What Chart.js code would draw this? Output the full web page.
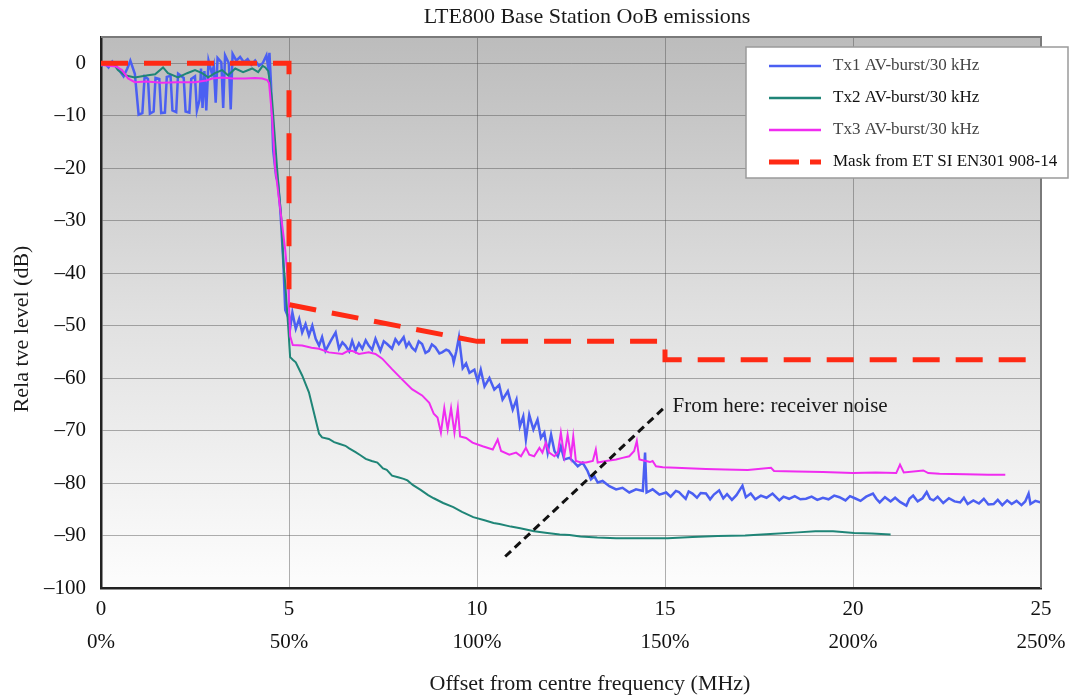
<!DOCTYPE html>
<html>
<head>
<meta charset="utf-8">
<title>LTE800 Base Station OoB emissions</title>
<script src="https://cdn.jsdelivr.net/npm/chart.js@4.4.1/dist/chart.umd.min.js"></script>
<style>
  html, body { margin: 0; padding: 0; background: #ffffff; }
  #wrap { width: 1075px; height: 700px; }
</style>
</head>
<body>
<div id="wrap"><canvas id="oobChart" width="1075" height="700"></canvas></div>
<script>
// Axis ticks
const xTickValues = [0, 5, 10, 15, 20, 25];
const xTickLabels = ['0', '5', '10', '15', '20', '25'];
const xPctLabels = ['0%', '50%', '100%', '150%', '200%', '250%'];
const yTickValues = [-100, -90, -80, -70, -60, -50, -40, -30, -20, -10, 0];
const yTickLabels = ['\u2013100', '\u201390', '\u201380', '\u201370', '\u201360', '\u201350', '\u201340', '\u201330', '\u201320', '\u201310', '0'];

// Tx1 AV-burst/30 kHz (offset MHz / level dB)
const tx1Freq = [
  0.00, 0.10, 0.20, 0.30, 0.40, 0.50, 0.60, 0.70, 0.78, 0.90,
  1.00, 1.10, 1.16, 1.25, 1.30, 1.40, 1.45, 1.55, 1.60, 1.70,
  1.75, 1.85, 1.90, 2.00, 2.05, 2.20, 2.25, 2.35, 2.40, 2.50,
  2.55, 2.62, 2.66, 2.70, 2.75, 2.80, 2.86, 2.95, 3.00, 3.05,
  3.10, 3.20, 3.25, 3.30, 3.40, 3.45, 3.50, 3.60, 3.70, 3.80,
  3.90, 4.00, 4.10, 4.20, 4.30, 4.40, 4.45, 4.48, 4.52, 4.58,
  4.66, 4.70, 4.77, 4.85, 4.90, 4.98,
  5.00, 5.04, 5.09, 5.18, 5.27, 5.35, 5.44, 5.53, 5.62, 5.71,
  5.80, 5.88, 5.97, 6.11, 6.24, 6.33, 6.42, 6.50, 6.60, 6.68,
  6.77, 6.86, 6.95, 7.04, 7.12, 7.21, 7.30, 7.43, 7.52, 7.61,
  7.74, 7.83, 7.92, 8.05, 8.12, 8.19, 8.27, 8.36, 8.45, 8.54,
  8.63, 8.72, 8.80, 8.89, 9.00, 9.07, 9.18, 9.25, 9.35, 9.38,
  9.45, 9.52, 9.62, 9.71, 9.80, 9.93, 10.02, 10.10, 10.20, 10.33,
  10.46, 10.59, 10.68, 10.82, 10.95, 11.05, 11.14, 11.23, 11.30, 11.39,
  11.50, 11.61, 11.70, 11.79, 11.88, 11.97, 12.06, 12.15, 12.23, 12.32,
  12.46, 12.59, 12.68, 12.81, 12.94, 13.03, 13.12, 13.21, 13.34, 13.52,
  13.70, 13.87, 14.05, 14.23, 14.41, 14.47, 14.51, 14.67, 14.85, 15.03,
  15.15, 15.29, 15.37, 15.45, 15.55, 15.63, 15.73, 15.85, 15.95, 16.09,
  16.20, 16.30, 16.44, 16.55, 16.65, 16.78, 16.90, 17.06, 17.15, 17.28,
  17.40, 17.55, 17.70, 17.86, 18.04, 18.15, 18.30, 18.45, 18.60, 18.75,
  18.90, 19.05, 19.20, 19.35, 19.50, 19.64, 19.80, 19.92, 20.05, 20.20,
  20.35, 20.53, 20.62, 20.71, 20.85, 21.00, 21.12, 21.25, 21.42, 21.50,
  21.60, 21.72, 21.85, 21.96, 22.05, 22.14, 22.25, 22.40, 22.55, 22.70,
  22.85, 22.95, 23.05, 23.20, 23.35, 23.48, 23.60, 23.74, 23.85, 23.97,
  24.10, 24.22, 24.35, 24.48, 24.58, 24.67, 24.72, 24.85, 25.00
];
const tx1Level = [
  -0.5, 0.0, -0.8, 0.3, -0.5, -1.5, -2.5, -1.0, 0.5, -2.0,
  -9.8, -9.5, -2.5, -3.0, -9.6, -9.2, -2.8, -3.0, -9.5, -9.4,
  -2.6, -2.4, -9.0, -9.3, -2.0, -2.8, -9.2, -9.4, -3.0, -2.5,
  -9.0, -7.0, -1.0, -8.5, -1.5, -9.0, 0.5, -2.0, -0.5, -7.5,
  1.0, 0.2, -8.5, 1.5, 0.0, -8.8, 1.8, 0.5, 1.2, 0.2,
  0.8, -0.3, 0.5, -0.5, 0.0, 1.5, -1.0, 2.0, -3.8, -16.6,
  -21.7, -22.5, -28.0, -38.0, -47.0, -48.4,
  -48.1, -50.0, -47.5, -50.6, -48.7, -51.3, -49.7, -51.9, -50.0, -52.5,
  -53.8, -52.2, -54.8, -52.9, -51.3, -54.4, -53.2, -53.8, -54.9, -52.9,
  -54.8, -53.4, -54.4, -52.8, -53.8, -54.6, -52.5, -54.8, -53.0, -53.5,
  -54.4, -52.6, -53.5, -52.2, -54.0, -53.2, -54.2, -54.8, -53.0, -53.5,
  -55.2, -54.8, -53.6, -54.1, -55.3, -55.1, -54.6, -54.8, -55.9, -57.0,
  -54.9, -52.2, -58.1, -57.2, -59.0, -58.4, -60.6, -58.4, -61.6, -60.0,
  -62.2, -61.3, -64.1, -62.5, -66.0, -64.1, -69.2, -67.3, -71.7, -67.0,
  -69.8, -67.9, -71.4, -70.4, -74.2, -70.8, -73.9, -74.9, -73.0, -75.5,
  -75.2, -76.1, -76.8, -76.1, -77.7, -79.3, -78.7, -79.9, -79.6, -80.6,
  -81.2, -80.9, -81.8, -81.2, -81.5, -74.2, -81.8, -81.2, -82.2, -81.8,
  -82.6, -81.5, -81.7, -82.3, -83.0, -81.6, -82.0, -82.8, -81.9, -82.0,
  -83.1, -82.2, -81.4, -82.9, -82.1, -83.2, -82.3, -80.5, -82.7, -82.0,
  -83.1, -82.4, -82.8, -82.0, -83.3, -82.6, -83.0, -82.5, -83.1, -83.0,
  -82.6, -83.2, -82.8, -83.1, -82.4, -82.7, -83.3, -82.5, -82.9, -83.4,
  -82.6, -82.0, -83.0, -83.7, -82.7, -83.5, -82.8, -83.6, -84.3, -83.0,
  -82.4, -83.5, -82.9, -81.7, -83.0, -83.3, -82.6, -83.8, -82.9, -83.5,
  -83.7, -82.8, -84.0, -83.3, -83.9, -83.0, -84.1, -84.0, -83.2, -84.2,
  -83.3, -84.0, -83.4, -84.2, -83.5, -82.0, -84.0, -83.4, -83.7
];

// Tx2 AV-burst/30 kHz
const tx2Freq = [
  0.00, 0.15, 0.30, 0.45, 0.64, 0.90, 1.25, 1.44, 1.65, 1.78,
  2.05, 2.29, 2.50, 2.69, 2.85, 3.03, 3.22, 3.38, 3.57, 3.78,
  4.02, 4.18, 4.30, 4.37, 4.45, 4.55, 4.68, 4.80, 4.85, 4.90,
  4.98, 5.03, 5.10, 5.18, 5.35, 5.53, 5.66, 5.80, 5.88, 6.06,
  6.20, 6.33, 6.50, 6.60, 6.77, 6.90, 7.04, 7.20, 7.35, 7.50,
  7.60, 7.74, 7.90, 8.05, 8.15, 8.30, 8.50, 8.70, 8.85, 9.10,
  9.37, 9.60, 9.90, 10.20, 10.44, 10.60, 10.90, 11.15, 11.52, 11.87,
  12.20, 12.46, 12.75, 13.20, 13.70, 14.33, 15.07, 15.73, 16.40, 17.13,
  17.80, 18.53, 19.00, 19.47, 20.03, 20.50, 21.00
];
const tx2Level = [
  -0.4, 0.0, 0.2, -1.3, -2.3, -2.7, -2.3, -2.1, -0.8, -1.9,
  -2.7, -1.9, -1.3, -1.9, -2.7, -1.9, -1.3, -2.3, -1.0, -1.7,
  -1.0, -1.7, -0.5, -0.8, -1.5, -7.0, -19.8, -30.0, -38.0, -42.0,
  -50.3, -56.0, -56.5, -57.0, -59.5, -62.7, -66.5, -70.6, -71.3, -71.6,
  -72.2, -72.5, -72.9, -73.4, -74.1, -74.7, -75.4, -75.8, -76.1, -77.2,
  -77.5, -78.6, -78.9, -79.2, -79.5, -80.4, -81.3, -82.3, -82.9, -83.8,
  -84.6, -85.5, -86.5, -87.1, -87.6, -87.8, -88.3, -88.6, -89.2, -89.5,
  -89.8, -89.9, -90.2, -90.4, -90.5, -90.5, -90.5, -90.3, -90.1, -90.0,
  -89.7, -89.4, -89.2, -89.2, -89.5, -89.6, -89.8
];

// Tx3 AV-burst/30 kHz
const tx3Freq = [
  0.00, 0.20, 0.40, 0.56, 0.72, 0.90, 1.20, 1.62, 2.00, 2.50,
  2.80, 2.96, 3.22, 3.50, 3.83, 4.10, 4.29, 4.42, 4.47, 4.55,
  4.63, 4.77, 4.90, 4.98, 5.03, 5.10, 5.35, 5.60, 5.80, 6.06,
  6.42, 6.55, 6.68, 6.86, 7.12, 7.30, 7.48, 7.74, 8.00, 8.27,
  8.54, 8.73, 8.85, 8.95, 9.04, 9.13, 9.22, 9.31, 9.40, 9.49,
  9.55, 9.71, 9.88, 10.15, 10.42, 10.55, 10.64, 10.86, 11.04, 11.17,
  11.30, 11.39, 11.52, 11.66, 11.74, 11.83, 11.92, 12.06, 12.15, 12.23,
  12.32, 12.41, 12.50, 12.56, 12.63, 12.77, 12.90, 13.08, 13.16, 13.21,
  13.43, 13.70, 13.87, 14.05, 14.18, 14.25, 14.32, 14.49, 14.60, 14.67,
  14.76, 14.94, 15.29, 15.60, 16.09, 16.60, 17.20, 17.82, 17.90, 18.50,
  19.20, 20.00, 20.60, 21.15, 21.25, 21.35, 21.87, 22.00, 22.30, 23.00,
  23.60, 24.05
];
const tx3Level = [
  -0.3, -0.5, -0.6, -1.3, -2.9, -3.6, -3.5, -3.7, -3.6, -3.6,
  -3.3, -2.9, -2.7, -2.9, -2.9, -2.8, -2.9, -3.2, -3.8, -10.2,
  -19.8, -28.0, -35.6, -42.0, -52.0, -53.7, -53.8, -54.2, -54.4, -55.1,
  -55.4, -54.9, -54.8, -55.4, -55.1, -55.4, -56.3, -58.3, -60.2, -62.1,
  -63.3, -64.7, -66.8, -67.5, -70.4, -65.7, -69.8, -65.7, -70.4, -65.7,
  -71.1, -71.4, -72.3, -73.0, -73.6, -71.7, -73.9, -74.6, -74.2, -74.9,
  -73.3, -74.6, -74.9, -73.3, -74.2, -72.3, -74.2, -74.9, -74.2, -70.4,
  -74.9, -70.8, -74.9, -71.1, -75.8, -76.1, -76.1, -75.8, -73.6, -76.1,
  -75.8, -75.5, -75.2, -74.9, -73.9, -72.0, -75.5, -75.8, -76.0, -75.8,
  -76.8, -77.0, -77.1, -77.2, -77.3, -77.4, -77.5, -77.1, -77.7, -77.8,
  -77.9, -78.1, -78.0, -78.1, -76.5, -78.0, -77.6, -78.1, -78.25, -78.3,
  -78.4, -78.4
];

// Mask from ETSI EN301 908-14
const maskFreq = [0, 5, 5, 10, 15, 15, 25];
const maskLevel = [0, 0, -46, -53, -53, -56.5, -56.5];

// Receiver noise marker
const noiseFreq = [10.75, 15.0];
const noiseLevel = [-94, -65.5];
const noiseNote = 'From here: receiver noise';

const seriesNames = ['Tx1 AV-burst/30 kHz', 'Tx2 AV-burst/30 kHz', 'Tx3 AV-burst/30 kHz', 'Mask from ET SI EN301 908-14'];
const seriesColors = ['#4b5ff2', '#1f8577', '#f02cf0', '#ff2a14'];

const SERIF = '"Liberation Serif", "Times New Roman", serif';

function toPoints(xs, ys) {
  return xs.map((x, i) => ({ x: x, y: ys[i] }));
}

// gray-to-white plot background
const backdrop = {
  id: 'backdrop',
  beforeDraw(chart) {
    const { ctx, chartArea: a } = chart;
    ctx.save();
    ctx.fillStyle = '#ffffff';
    ctx.fillRect(0, 0, chart.width, chart.height);
    const g = ctx.createLinearGradient(0, a.top, 0, a.bottom);
    g.addColorStop(0, '#bcbcbc');
    g.addColorStop(0.5, '#e0e0e0');
    g.addColorStop(1, '#fdfdfd');
    ctx.fillStyle = g;
    ctx.fillRect(a.left, a.top, a.right - a.left, a.bottom - a.top);
    ctx.restore();
  }
};

// frame, titles, note and the boxed legend
const decorations = {
  id: 'decorations',
  afterDraw(chart) {
    const { ctx, chartArea: a, scales } = chart;
    ctx.save();

    ctx.strokeStyle = '#7a7a7a';
    ctx.lineWidth = 2;
    ctx.beginPath();
    ctx.moveTo(a.left, a.top);
    ctx.lineTo(a.right, a.top);
    ctx.lineTo(a.right, a.bottom);
    ctx.stroke();

    ctx.fillStyle = '#1a1a1a';
    ctx.textBaseline = 'middle';
    ctx.textAlign = 'center';
    ctx.font = '22px ' + SERIF;
    ctx.fillText('LTE800 Base Station OoB emissions', 587, 17);
    ctx.fillText('Offset from centre frequency (MHz)', 590, 684);

    ctx.save();
    ctx.translate(22, 329);
    ctx.rotate(-Math.PI / 2);
    ctx.fillText('Rela tve level (dB)', 0, 0);
    ctx.restore();

    ctx.textAlign = 'left';
    ctx.font = '21px ' + SERIF;
    ctx.fillText(noiseNote, scales.x.getPixelForValue(15.2), scales.y.getPixelForValue(noiseLevel[1]));

    // legend box
    const bx = 746, by = 47, bw = 322, bh = 131;
    ctx.fillStyle = '#ffffff';
    ctx.fillRect(bx, by, bw, bh);
    ctx.strokeStyle = '#9a9a9a';
    ctx.lineWidth = 1.5;
    ctx.strokeRect(bx, by, bw, bh);

    ctx.font = '17px ' + SERIF;
    seriesNames.forEach((name, i) => {
      const y = 66 + i * 32;
      ctx.strokeStyle = seriesColors[i];
      if (i === 3) {
        ctx.lineWidth = 5;
        ctx.beginPath();
        ctx.moveTo(769, y); ctx.lineTo(799, y);
        ctx.moveTo(810, y); ctx.lineTo(821, y);
        ctx.stroke();
      } else {
        ctx.lineWidth = 2.5;
        ctx.beginPath();
        ctx.moveTo(769, y); ctx.lineTo(821, y);
        ctx.stroke();
      }
      ctx.fillStyle = i === 1 || i === 3 ? '#111111' : '#444444';
      ctx.fillText(name, 833, y);
    });
    ctx.restore();
  }
};

const ctx = document.getElementById('oobChart').getContext('2d');

new Chart(ctx, {
  type: 'line',
  data: {
    datasets: [
      {
        label: seriesNames[3],
        data: toPoints(maskFreq, maskLevel),
        borderColor: seriesColors[3],
        borderWidth: 5,
        borderDash: [27, 16],
        pointRadius: 0,
        tension: 0
      },
      {
        label: 'receiver noise',
        data: toPoints(noiseFreq, noiseLevel),
        borderColor: '#111111',
        borderWidth: 3,
        borderDash: [8, 5],
        pointRadius: 0
      },
      {
        label: seriesNames[2],
        data: toPoints(tx3Freq, tx3Level),
        borderColor: seriesColors[2],
        borderWidth: 2,
        pointRadius: 0,
        tension: 0
      },
      {
        label: seriesNames[1],
        data: toPoints(tx2Freq, tx2Level),
        borderColor: seriesColors[1],
        borderWidth: 2,
        pointRadius: 0,
        tension: 0
      },
      {
        label: seriesNames[0],
        data: toPoints(tx1Freq, tx1Level),
        borderColor: seriesColors[0],
        borderWidth: 2.5,
        pointRadius: 0,
        tension: 0
      }
    ]
  },
  options: {
    responsive: false,
    animation: false,
    devicePixelRatio: 1,
    layout: { padding: { top: 37, right: 34, left: 0, bottom: 0 } },
    plugins: {
      legend: { display: false },
      title: { display: false },
      tooltip: { enabled: false }
    },
    scales: {
      x: {
        type: 'linear',
        min: 0,
        max: 25,
        afterBuildTicks: (s) => { s.ticks = xTickValues.map(v => ({ value: v })); },
        afterFit: (s) => { s.height = 112; },
        ticks: {
          autoSkip: false,
          maxRotation: 0,
          padding: 5,
          color: '#111111',
          font: { family: SERIF, size: 21, lineHeight: 1.57 },
          callback: (v, i) => [xTickLabels[i], xPctLabels[i]]
        },
        grid: { color: 'rgba(80,80,80,0.45)', lineWidth: 1, drawTicks: false },
        border: { color: '#222222', width: 2.5 }
      },
      y: {
        type: 'linear',
        min: -100,
        max: 5,
        afterBuildTicks: (s) => { s.ticks = yTickValues.map(v => ({ value: v })); },
        afterFit: (s) => { s.width = 101; },
        ticks: {
          autoSkip: false,
          padding: 15,
          color: '#111111',
          font: { family: SERIF, size: 21 },
          callback: (v, i) => yTickLabels[i]
        },
        grid: { color: 'rgba(80,80,80,0.45)', lineWidth: 1, drawTicks: false },
        border: { color: '#222222', width: 2.5 }
      }
    }
  },
  plugins: [backdrop, decorations]
});
</script>
</body>
</html>
